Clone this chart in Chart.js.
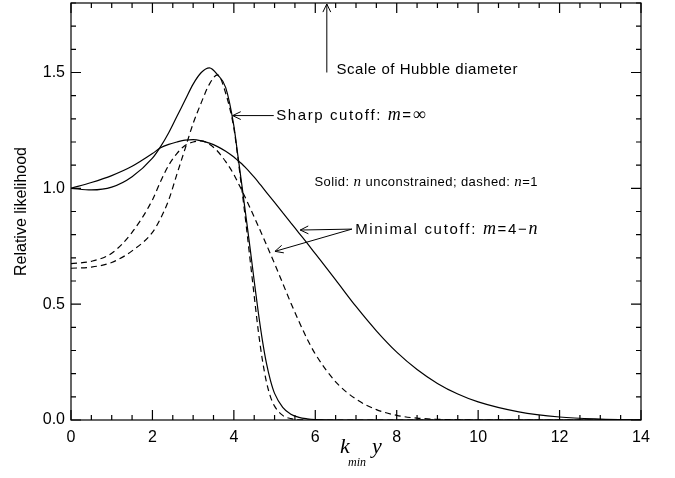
<!DOCTYPE html>
<html>
<head>
<meta charset="utf-8">
<script src="https://cdn.jsdelivr.net/npm/chart.js@4.4.1/dist/chart.umd.min.js"></script>
<style>
  body { margin: 0; background: #fff; }
</style>
</head>
<body>
<canvas id="likelihood" width="675" height="478"></canvas>
<script>
// k_min * y sample points shared by all four curves
const kY = [0, 0.5, 1, 1.5, 2, 2.2, 2.4, 2.6, 2.8, 3.0, 3.2, 3.4, 3.6, 3.8,
            4.0, 4.1, 4.2, 4.3, 4.4, 4.5, 4.6, 4.7, 4.8, 4.9, 5.0, 5.2, 5.4, 5.6, 5.8,
            6.0, 6.5, 7, 7.5, 8, 8.5, 9, 9.5, 10, 11, 12, 13, 14];

// sharp cutoff, n unconstrained (solid)
const sharpFree = [1.0, 0.993, 1.005, 1.05, 1.13, 1.18, 1.24, 1.31, 1.38, 1.45, 1.50, 1.52, 1.49, 1.435,
                   1.27, 1.14, 1.01, 0.875, 0.74, 0.60, 0.465, 0.345, 0.245, 0.17, 0.115, 0.055, 0.025, 0.011, 0.005,
                   0.002, 0, 0, 0, 0, 0, 0, 0, 0, 0, 0, 0, 0];
// sharp cutoff, n = 1 (dashed)
const sharpN1 = [0.655, 0.66, 0.68, 0.73, 0.81, 0.87, 0.95, 1.06, 1.17, 1.28, 1.37, 1.45, 1.49, 1.41,
                 1.26, 1.13, 0.99, 0.845, 0.69, 0.535, 0.385, 0.26, 0.165, 0.10, 0.06, 0.02, 0.006, 0.001, 0,
                 0, 0, 0, 0, 0, 0, 0, 0, 0, 0, 0, 0, 0];
// minimal cutoff, n unconstrained (solid)
const minimalFree = [1.0, 1.025, 1.055, 1.095, 1.15, 1.175, 1.19, 1.2, 1.208, 1.21, 1.205, 1.195, 1.18, 1.16,
                     1.135, 1.12, 1.105, 1.087, 1.068, 1.048, 1.027, 1.005, 0.983, 0.961, 0.939, 0.895, 0.851, 0.807, 0.763,
                     0.718, 0.605, 0.49, 0.385, 0.293, 0.218, 0.158, 0.112, 0.078, 0.035, 0.013, 0.004, 0];
// minimal cutoff, n = 1 (dashed)
const minimalN1 = [0.675, 0.685, 0.72, 0.81, 0.95, 1.03, 1.10, 1.15, 1.185, 1.20, 1.205, 1.19, 1.16, 1.115,
                   1.06, 1.025, 0.99, 0.953, 0.915, 0.876, 0.837, 0.797, 0.757, 0.716, 0.675, 0.59, 0.505, 0.425, 0.35,
                   0.285, 0.165, 0.09, 0.045, 0.02, 0.008, 0.003, 0.001, 0, 0, 0, 0, 0];

const xTicks = [0, 2, 4, 6, 8, 10, 12, 14];
const yTicks = [0, 0.5, 1.0, 1.5];

const sans = '"Liberation Sans", Arial, sans-serif';
const serif = '"Liberation Serif", "Times New Roman", serif';

function pts(values) {
    return kY.map((x, i) => ({ x: x, y: values[i] }));
}

function line(values, dashed) {
    return {
        data: pts(values),
        borderColor: '#000',
        borderWidth: 1.2,
        borderDash: dashed ? [6, 4] : [],
        pointRadius: 0,
        cubicInterpolationMode: 'monotone',
        fill: false
    };
}

// box and inward ticks on all four sides (IDL style)
const frame = {
    id: 'frame',
    afterDatasetsDraw(chart) {
        const { ctx, chartArea: a, scales: { x, y } } = chart;
        ctx.save();
        ctx.strokeStyle = '#000';
        ctx.lineWidth = 1.2;
        ctx.strokeRect(a.left, a.top, a.right - a.left, a.bottom - a.top);
        ctx.beginPath();
        for (let i = 0; i <= 28; i++) {
            const px = x.getPixelForValue(i * 0.5);
            const len = (i % 4 === 0) ? 10 : 5;
            ctx.moveTo(px, a.bottom); ctx.lineTo(px, a.bottom - len);
            ctx.moveTo(px, a.top); ctx.lineTo(px, a.top + len);
        }
        for (let i = 0; i <= 18; i++) {
            const py = y.getPixelForValue(i * 0.1);
            const len = (i % 5 === 0) ? 10 : 5;
            ctx.moveTo(a.left, py); ctx.lineTo(a.left + len, py);
            ctx.moveTo(a.right, py); ctx.lineTo(a.right - len, py);
        }
        ctx.stroke();
        ctx.restore();
    }
};

// draw mixed-font text, spread out to a given width (the plot uses a wide stroke font)
function runs(ctx, parts, x, y, width) {
    let natural = 0, count = 0;
    for (const [text, font] of parts) {
        ctx.font = font;
        natural += ctx.measureText(text).width;
        count += text.length;
    }
    const gap = width ? (width - natural) / Math.max(1, count - 1) : 0;
    for (const [text, font, dy] of parts) {
        ctx.font = font;
        for (const ch of text) {
            ctx.fillText(ch, x, y + (dy || 0));
            x += ctx.measureText(ch).width + gap;
        }
    }
}

function arrow(ctx, x0, y0, x1, y1) {
    const ang = Math.atan2(y1 - y0, x1 - x0);
    const h = 9, s = 0.45;
    ctx.beginPath();
    ctx.moveTo(x0, y0); ctx.lineTo(x1, y1);
    ctx.moveTo(x1 - h * Math.cos(ang - s), y1 - h * Math.sin(ang - s));
    ctx.lineTo(x1, y1);
    ctx.lineTo(x1 - h * Math.cos(ang + s), y1 - h * Math.sin(ang + s));
    ctx.stroke();
}

const notes = {
    id: 'notes',
    afterDraw(chart) {
        const { ctx, chartArea: a, scales: { x, y } } = chart;
        const X = v => x.getPixelForValue(v), Y = v => y.getPixelForValue(v);
        ctx.save();
        ctx.fillStyle = '#000';
        ctx.strokeStyle = '#000';
        ctx.lineWidth = 1;
        ctx.textBaseline = 'middle';

        // Hubble diameter marker at 2*pi
        arrow(ctx, X(2 * Math.PI), Y(1.5), X(2 * Math.PI), a.top + 1);
        runs(ctx, [['Scale of Hubble diameter', '15px ' + sans]], X(6.52), Y(1.51), 181);

        arrow(ctx, X(4.98), Y(1.314), X(3.97), Y(1.314));
        runs(ctx, [['Sharp cutoff: ', '15px ' + sans], ['m', 'italic 18px ' + serif],
                   ['=', '15px ' + sans], ['\u221e', '18px ' + serif]], X(5.04), Y(1.314), 149);

        runs(ctx, [['Solid: ', '13px ' + sans], ['n', 'italic 15px ' + serif],
                   [' unconstrained; dashed: ', '13px ' + sans], ['n', 'italic 15px ' + serif],
                   ['=1', '13px ' + sans]], X(5.98), Y(1.025), 223);

        arrow(ctx, X(6.9), Y(0.824), X(5.63), Y(0.82));
        arrow(ctx, X(6.9), Y(0.824), X(5.01), Y(0.728));
        runs(ctx, [['Minimal cutoff: ', '15px ' + sans], ['m', 'italic 18px ' + serif],
                   ['=4\u2212', '15px ' + sans], ['n', 'italic 18px ' + serif]], X(6.98), Y(0.822), 182);

        // x axis title: k_min y
        ctx.textBaseline = 'alphabetic';
        runs(ctx, [['k', 'italic 22px ' + serif]], 340, 453);
        runs(ctx, [['min', 'italic 12px ' + serif]], 348, 466);
        runs(ctx, [['y', 'italic 22px ' + serif]], 372, 453);
        ctx.restore();
    }
};

new Chart(document.getElementById('likelihood'), {
    type: 'line',
    data: {
        datasets: [
            line(sharpFree, false),
            line(sharpN1, true),
            line(minimalFree, false),
            line(minimalN1, true)
        ]
    },
    options: {
        responsive: false,
        animation: false,
        devicePixelRatio: 1,
        layout: { padding: { left: 0, right: 34, top: 3, bottom: 0 } },
        plugins: { legend: { display: false }, tooltip: { enabled: false } },
        scales: {
            x: {
                type: 'linear', min: 0, max: 14,
                afterBuildTicks: s => { s.ticks = xTicks.map(v => ({ value: v })); },
                afterFit: s => { s.height = 58; s.paddingLeft = 0; s.paddingRight = 0; },
                ticks: { color: '#000', font: { family: sans, size: 16 }, padding: 8,
                         maxRotation: 0, autoSkip: false, callback: v => String(v) },
                grid: { display: false, drawTicks: false },
                border: { display: false }
            },
            y: {
                type: 'linear', min: 0, max: 1.8,
                afterBuildTicks: s => { s.ticks = yTicks.map(v => ({ value: v })); },
                afterFit: s => { s.width = 71; s.paddingTop = 0; s.paddingBottom = 0; },
                ticks: { color: '#000', font: { family: sans, size: 16 }, padding: 6,
                         callback: v => v.toFixed(1) },
                grid: { display: false, drawTicks: false },
                border: { display: false },
                title: { display: true, text: 'Relative likelihood', color: '#000',
                         font: { family: sans, size: 16 }, padding: { top: 12, bottom: 0 } }
            }
        }
    },
    plugins: [frame, notes]
});
</script>
</body>
</html>
